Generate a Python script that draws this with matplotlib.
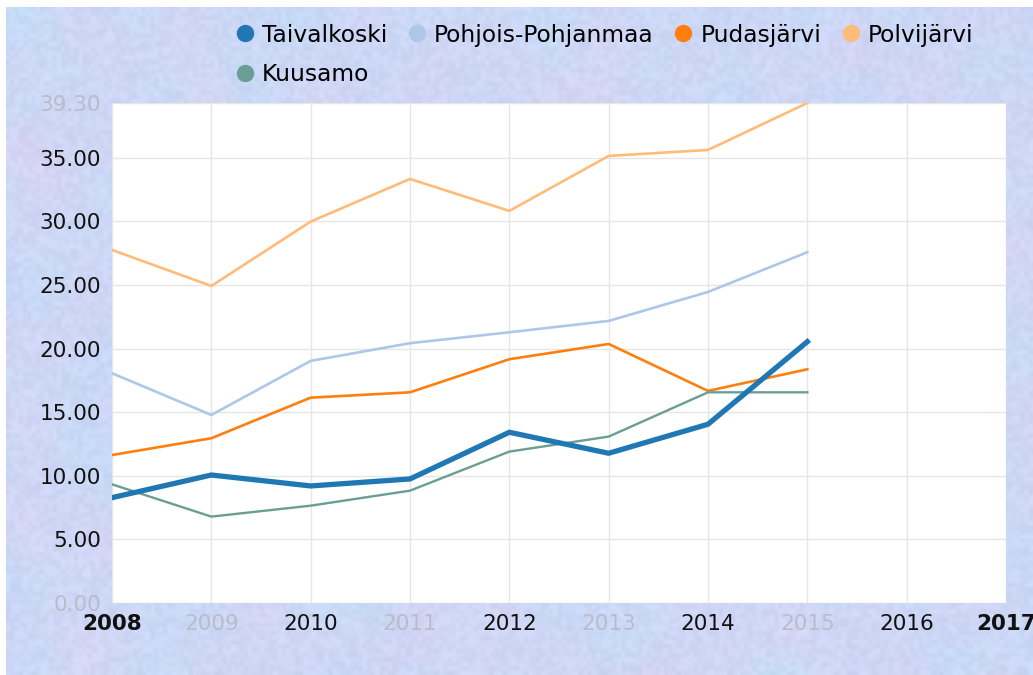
import numpy as np
import matplotlib
matplotlib.use("Agg")
import matplotlib.pyplot as plt
from matplotlib.lines import Line2D

years = [2008, 2009, 2010, 2011, 2012, 2013, 2014, 2015]
taivalkoski = [8.28, 10.06, 9.20, 9.75, 13.42, 11.77, 14.05, 20.54]
pohjois_pohjanmaa = [18.06, 14.78, 19.03, 20.42, 21.28, 22.17, 24.45, 27.57]
pudasjarvi = [11.63, 12.95, 16.14, 16.56, 19.16, 20.36, 16.67, 18.37]
polvijarvi = [27.75, 24.92, 29.98, 33.33, 30.82, 35.14, 35.61, 39.30]
kuusamo = [9.33, 6.79, 7.65, 8.83, 11.90, 13.08, 16.56, 16.56]

x_ticks = list(range(2008, 2018))
y_ticks = [0, 5, 10, 15, 20, 25, 30, 35, 39.30]

plt.rcParams['font.family'] = ['DejaVu Sans']

fig = plt.figure(figsize=(10.33, 6.75), dpi=100)
fig.patch.set_facecolor('white')

# textured bluish background (decoration only)
bg = fig.add_axes([6/1033, 0, 1 - 6/1033, 1 - 7/675], zorder=-10)
rng = np.random.default_rng(7)
h, w = 168, 258
field = rng.random((h, w, 3)) ** 2
k = np.ones(9) / 9
for _ in range(3):
    field = np.apply_along_axis(lambda r: np.convolve(r, k, mode='same'), 0, field)
    field = np.apply_along_axis(lambda r: np.convolve(r, k, mode='same'), 1, field)
field = field[8:-8, 8:-8]
field = (field - field.min(axis=(0, 1))) / (field.max(axis=(0, 1)) - field.min(axis=(0, 1)))
field = field ** 1.6
c_blue = np.array([0.76, 0.87, 0.97])
c_lav = np.array([0.82, 0.82, 0.96])
c_pink = np.array([0.91, 0.82, 0.95])
wts = np.stack([field[..., 0] * 1.6 + 0.2, field[..., 1] + 0.1, field[..., 2] * 0.9], axis=2)
img = (c_blue * wts[..., 0:1] + c_lav * wts[..., 1:2] + c_pink * wts[..., 2:3]) / wts.sum(axis=2, keepdims=True)
img += (rng.random((h - 16, w - 16, 1)) - 0.5) * 0.05
bg.imshow(np.clip(img, 0, 1), aspect='auto', interpolation='bilinear')
bg.axis('off')

ax = fig.add_axes([112/1033, 72/675, 894/1033, 500/675])
ax.set_facecolor('white')

ax.plot(years, polvijarvi, color='#ffbb78', lw=1.9, label='Polvijärvi')
ax.plot(years, pohjois_pohjanmaa, color='#aec7e8', lw=1.9, label='Pohjois-Pohjanmaa')
ax.plot(years, pudasjarvi, color='#ff7f0e', lw=1.9, label='Pudasjärvi')
ax.plot(years, kuusamo, color='#6a9e94', lw=1.7, label='Kuusamo')
ax.plot(years, taivalkoski, color='#1f77b4', lw=3.8, label='Taivalkoski')

ax.set_xlim(2008, 2017)
ax.set_ylim(0, 39.30)
ax.set_xticks(x_ticks)
ax.set_yticks(y_ticks)
ax.set_xticklabels([str(y) for y in x_ticks])
ax.set_yticklabels(['%.2f' % v for v in y_ticks])
ax.grid(True, color='#e6e6e6', lw=1)
ax.set_axisbelow(True)
ax.tick_params(length=0, labelsize=15.5, pad=8, colors='#111111')
for s in ax.spines.values():
    s.set_visible(False)

for lab, yr in zip(ax.get_xticklabels(), x_ticks):
    if yr in (2008, 2017):
        lab.set_fontweight('bold')
    elif yr % 2 == 1:
        lab.set_color('#b8bccb')
for lab, v in zip(ax.get_yticklabels(), y_ticks):
    if v in (0, 39.30):
        lab.set_color('#b8bccb')

names = ['Taivalkoski', 'Kuusamo', 'Pohjois-Pohjanmaa', 'Pudasjärvi', 'Polvijärvi']
colors = ['#1f77b4', '#6a9e94', '#aec7e8', '#ff7f0e', '#ffbb78']
handles = [Line2D([], [], ls='none', marker='o', ms=11.5, color=c) for c in colors]
fig.legend(handles, names, ncol=4, loc='upper left', bbox_to_anchor=(226/1033, 1 - 12/675),
           frameon=False, fontsize=16.8, handlelength=0.6, handletextpad=0.45,
           columnspacing=0.95, labelspacing=0.72, borderpad=0)

fig.savefig('out.png', dpi=100)
